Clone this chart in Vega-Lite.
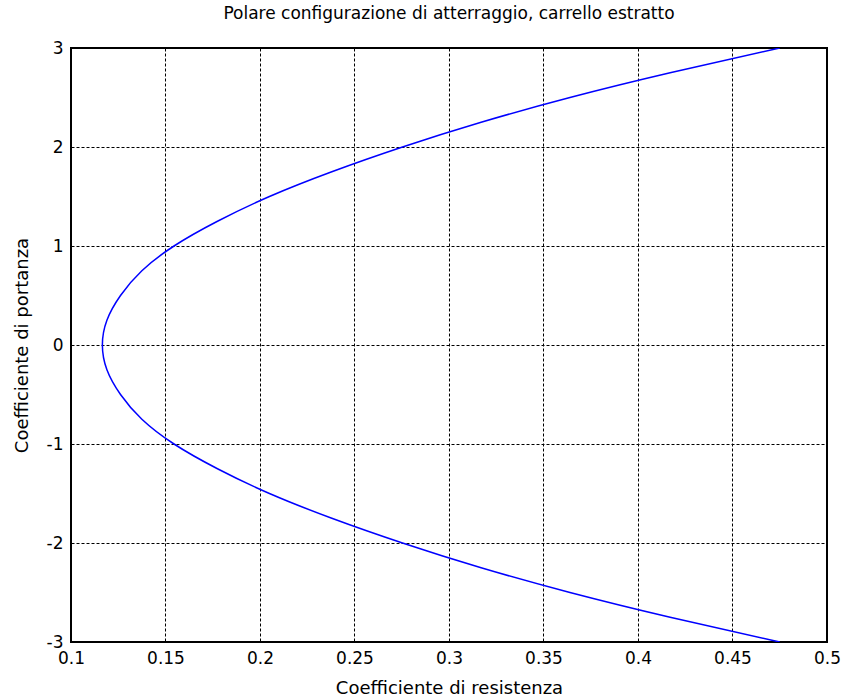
{
  "$schema": "https://vega.github.io/schema/vega-lite/v6.json",
  "autosize": "none",
  "padding": {"left": 71, "top": 48, "right": 17, "bottom": 56},
  "width": 756,
  "height": 594,
  "background": "white",
  "title": {
    "text": "Polare configurazione di atterraggio, carrello estratto",
    "font": "DejaVu Sans",
    "fontSize": 17,
    "fontWeight": "normal",
    "color": "black",
    "anchor": "middle",
    "offset": 16
  },
  "data": {
    "values": [
      {"i": 0, "cl": 3.0, "cd": 0.475},
      {"i": 1, "cl": 2.75, "cd": 0.417},
      {"i": 2, "cl": 2.5, "cd": 0.364},
      {"i": 3, "cl": 2.25, "cd": 0.317},
      {"i": 4, "cl": 2.0, "cd": 0.2754},
      {"i": 5, "cl": 1.75, "cd": 0.238},
      {"i": 6, "cl": 1.5, "cd": 0.205},
      {"i": 7, "cl": 1.25, "cd": 0.1775},
      {"i": 8, "cl": 1.0, "cd": 0.1545},
      {"i": 9, "cl": 0.75, "cd": 0.1375},
      {"i": 10, "cl": 0.5, "cd": 0.1262},
      {"i": 11, "cl": 0.25, "cd": 0.1190},
      {"i": 12, "cl": 0.0, "cd": 0.1166},
      {"i": 13, "cl": -0.25, "cd": 0.1190},
      {"i": 14, "cl": -0.5, "cd": 0.1262},
      {"i": 15, "cl": -0.75, "cd": 0.1375},
      {"i": 16, "cl": -1.0, "cd": 0.1545},
      {"i": 17, "cl": -1.25, "cd": 0.1775},
      {"i": 18, "cl": -1.5, "cd": 0.205},
      {"i": 19, "cl": -1.75, "cd": 0.238},
      {"i": 20, "cl": -2.0, "cd": 0.2754},
      {"i": 21, "cl": -2.25, "cd": 0.317},
      {"i": 22, "cl": -2.5, "cd": 0.364},
      {"i": 23, "cl": -2.75, "cd": 0.417},
      {"i": 24, "cl": -3.0, "cd": 0.475}
    ]
  },
  "mark": {"type": "line", "color": "#0000ff", "strokeWidth": 1.5, "interpolate": "natural", "clip": true},
  "encoding": {
    "x": {
      "field": "cd",
      "type": "quantitative",
      "scale": {"domain": [0.1, 0.5], "nice": false, "zero": false},
      "axis": {
        "title": "Coefficiente di resistenza",
        "values": [0.1, 0.15, 0.2, 0.25, 0.3, 0.35, 0.4, 0.45, 0.5],
        "labelExpr": "datum.value == 0.1 ? '0.1' : datum.value == 0.2 ? '0.2' : datum.value == 0.3 ? '0.3' : datum.value == 0.4 ? '0.4' : datum.value == 0.5 ? '0.5' : format(datum.value, '.2f')",
        "labelPadding": 8,
        "titlePadding": 13
      }
    },
    "y": {
      "field": "cl",
      "type": "quantitative",
      "scale": {"domain": [-3, 3], "nice": false, "zero": false},
      "axis": {
        "title": "Coefficiente di portanza",
        "values": [-3, -2, -1, 0, 1, 2, 3],
        "labelExpr": "replace(format(datum.value, 'd'), '\u2212', '-')",
        "labelPadding": 8,
        "titlePadding": 15
      }
    },
    "order": {"field": "i", "type": "quantitative"}
  },
  "config": {
    "view": {"stroke": "black", "strokeWidth": 2},
    "axis": {
      "domain": false,
      "ticks": false,
      "grid": true,
      "gridColor": "black",
      "gridOpacity": 1,
      "gridWidth": 1,
      "gridDash": [3, 2],
      "labelFont": "DejaVu Sans",
      "labelFontSize": 17,
      "labelColor": "black",
      "labelFlush": false,
      "labelOverlap": false,
      "titleFont": "DejaVu Sans",
      "titleFontSize": 18,
      "titleFontWeight": "normal",
      "titleColor": "black"
    }
  }
}
